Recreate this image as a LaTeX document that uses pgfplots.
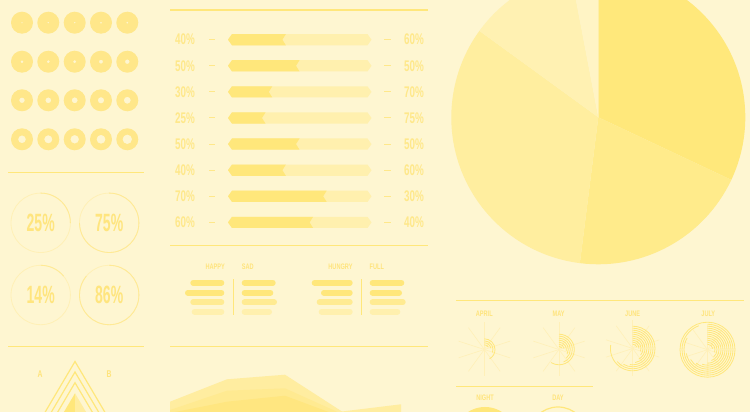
\documentclass[border=0pt]{standalone}
\usepackage{fontspec}
\usepackage{pgfplots}
\pgfplotsset{compat=1.18}
\newfontfamily\condA[FakeStretch=0.64]{Liberation Sans}
\newfontfamily\condP[FakeStretch=0.56]{Liberation Sans}
\newfontfamily\condS[FakeStretch=0.70]{Liberation Sans}
\definecolor{bg}{HTML}{FEF6D1}
\definecolor{dk}{HTML}{FFE77B}
\definecolor{dn}{HTML}{FFE78A}
\definecolor{md}{HTML}{FFEB92}
\definecolor{lt}{HTML}{FFF0AE}
\definecolor{txt}{HTML}{FFE88A}
\definecolor{ptxt}{HTML}{FFE57E}
\definecolor{stxt}{HTML}{FFE47C}
\definecolor{ringl}{HTML}{FFF0B6}
\definecolor{ringd}{HTML}{FFEA94}
\definecolor{spk}{HTML}{FFF0B8}
\definecolor{pA}{HTML}{FFE87B}
\definecolor{pB}{HTML}{FFEB8B}
\definecolor{pC}{HTML}{FFEE9F}
\definecolor{pD}{HTML}{FFF1B2}
\definecolor{pE}{HTML}{FFF4C5}
\definecolor{aA}{HTML}{FFEDA0}
\definecolor{aB}{HTML}{FFEA91}
\definecolor{aC}{HTML}{FFE680}
\tikzset{
  lbl/.style={font=\condA\bfseries\fontsize{15.4}{16}\selectfont, text=txt, inner sep=0pt},
  pct/.style={font=\condP\bfseries\fontsize{25}{26}\selectfont, text=ptxt, inner sep=0pt},
  small/.style={font=\condS\bfseries\fontsize{8}{8}\selectfont, text=stxt, inner sep=0pt},
  ring/.style={draw=dk, line width=0.8pt},
  spoke/.style={draw=spk, line width=0.6pt},
  sep/.style={draw=dk, line width=1.3pt},
}
\newcommand\radial[5]{%
  \foreach \a in {90,54,18,-18,-54,-90,-126,-162,162,126} {%
    \edef\cmd{\noexpand\draw[spoke] (axis cs:#1,-#2) -- ++(\a:#5pt);}\cmd
  }%
  \foreach \e [count=\k from 0] in {#4} {%
    \pgfmathsetmacro\rr{#3+2*\k}%
    \pgfmathsetmacro\ea{90-\e}%
    \edef\cmd{\noexpand\draw[ring] (axis cs:#1,-#2) ++(90:\rr pt) arc[start angle=90,end angle=\ea,radius=\rr pt];}\cmd
  }%
}
\begin{document}
\begin{tikzpicture}
\useasboundingbox (0,0) rectangle (750pt,412pt);
\clip (0,0) rectangle (750pt,412pt);
\fill[bg] (0,0) rectangle (750pt,412pt);
\begin{axis}[at={(0,0)}, anchor=south west, width=750pt, height=412pt, scale only axis,
  xmin=0, xmax=750, ymin=-412, ymax=0, hide axis, clip=false]

% ---------- separators
\addplot[sep] coordinates {(170,-10) (428,-10)};
\addplot[sep] coordinates {(8,-172.3) (143.7,-172.3)};
\addplot[sep] coordinates {(170,-245.7) (428,-245.7)};
\addplot[sep] coordinates {(8,-346.7) (143.7,-346.7)};
\addplot[sep] coordinates {(170,-346.5) (428,-346.5)};
\addplot[sep] coordinates {(456,-300.3) (744,-300.3)};
\addplot[sep] coordinates {(456,-386.7) (592.7,-386.7)};

% ---------- donut grid (outer radius 11, hole radius r)
\foreach \x/\y/\r in {
 22/22.7/0.9, 48.3/22.7/1.0, 74.7/22.7/1.0, 101/22.7/1.1, 127.3/22.7/1.2,
 22/61.7/1.6, 48.3/61.7/1.7, 74.7/61.7/1.8, 101/61.7/2.0, 127.3/61.7/2.3,
 22/100.3/2.8, 48.3/100.3/2.9, 74.7/100.3/3.0, 101/100.3/3.2, 127.3/100.3/3.5,
 22/139.3/3.9, 48.3/139.3/4.1, 74.7/139.3/4.3, 101/139.3/4.5, 127.3/139.3/4.8} {
  \edef\cmd{\noexpand\fill[dn, even odd rule] (axis cs:\x,-\y) circle[radius=11pt] (axis cs:\x,-\y) circle[radius=\r pt];}\cmd
}

% ---------- percent circles
\foreach \cx/\cy/\p in {40.7/222.8/25, 109.2/222.8/75, 40.7/295/14, 109.2/295/86} {
  \pgfmathsetmacro\ea{90-3.6*\p}
  \edef\cmd{
    \noexpand\draw[ringl, line width=0.8pt] (axis cs:\cx,-\cy) circle[radius=29.7pt];
    \noexpand\draw[ringd, line width=0.8pt] (axis cs:\cx,-\cy) ++(90:29.7pt) arc[start angle=90,end angle=\ea,radius=29.7pt];
    \noexpand\node[pct] at (axis cs:\cx,-\cy) {\p\noexpand\%};
  }\cmd
}

% ---------- triangles A / B
\node[small, font=\condS\bfseries\fontsize{9.8}{10}\selectfont] at (axis cs:40,-374.5) {A};
\node[small, font=\condS\bfseries\fontsize{9.8}{10}\selectfont] at (axis cs:109,-374.5) {B};
\addplot[fill=dk, draw=none] coordinates {(59.2,-420) (75,-393.3) (75,-420)} -- cycle;
\addplot[fill=aA, draw=none] coordinates {(75,-393.3) (90.8,-420) (75,-420)} -- cycle;
\addplot[dk, line width=1.2pt] coordinates {(40.5,-420) (75,-361.5) (109.5,-420)};
\addplot[dk, line width=1.2pt] coordinates {(46.7,-420) (75,-372) (103.3,-420)};
\addplot[dk, line width=1.2pt] coordinates {(53,-420) (75,-382.7) (97,-420)};

% ---------- paired percentage bars
\foreach \v [count=\i from 0] in {40,50,30,25,50,40,70,60} {
  \pgfmathsetmacro\yc{-(39.7+26.1*\i)}
  \pgfmathsetmacro\yt{\yc+5.6}
  \pgfmathsetmacro\yb{\yc-5.6}
  \pgfmathsetmacro\xt{231.5+1.36*\v}
  \pgfmathsetmacro\xm{\xt-3.5}
  \pgfmathtruncatemacro\w{100-\v}
  \edef\cmd{
    \noexpand\fill[lt] (axis cs:228,\yc) -- (axis cs:232,\yt) -- (axis cs:367.5,\yt) -- (axis cs:371.5,\yc) -- (axis cs:367.5,\yb) -- (axis cs:232,\yb) -- cycle;
    \noexpand\fill[dk] (axis cs:228,\yc) -- (axis cs:232,\yt) -- (axis cs:\xt,\yt) -- (axis cs:\xm,\yc) -- (axis cs:\xt,\yb) -- (axis cs:232,\yb) -- cycle;
    \noexpand\draw[txt, line width=1pt] (axis cs:209,\yc) -- (axis cs:215,\yc);
    \noexpand\draw[txt, line width=1pt] (axis cs:384,\yc) -- (axis cs:391,\yc);
    \noexpand\node[lbl] at (axis cs:185,\yc) {\v\noexpand\%};
    \noexpand\node[lbl] at (axis cs:414,\yc) {\w\noexpand\%};
  }\cmd
}

% ---------- mood bars
\node[small, anchor=east] at (axis cs:225,-267) {HAPPY};
\node[small, anchor=west] at (axis cs:241.7,-267) {SAD};
\node[small, anchor=east] at (axis cs:352.7,-267) {HUNGRY};
\node[small, anchor=west] at (axis cs:369.5,-267) {FULL};
\addplot[dk, line width=1.2pt] coordinates {(233.7,-279.3) (233.7,-314.7)};
\addplot[dk, line width=1.2pt] coordinates {(361.7,-279.3) (361.7,-314.7)};
\foreach \y/\c/\ha/\sa/\hu/\fu in {282.7/dk/34/34/41/34.6, 292.7/dk/39.3/31.6/31.7/32.3, 302.3/md/34/35.3/36/36, 311.7/lt/32.6/30.3/34/30.6} {
  \pgfmathsetmacro\hl{224.3-\ha+2.85}
  \pgfmathsetmacro\sr{241.7+\sa-2.85}
  \pgfmathsetmacro\hul{352.7-\hu+2.85}
  \pgfmathsetmacro\fr{369.7+\fu-2.85}
  \edef\cmd{
    \noexpand\draw[\c, line width=5.7pt, line cap=round] (axis cs:\hl,-\y) -- (axis cs:221.45,-\y);
    \noexpand\draw[\c, line width=5.7pt, line cap=round] (axis cs:244.55,-\y) -- (axis cs:\sr,-\y);
    \noexpand\draw[\c, line width=5.7pt, line cap=round] (axis cs:\hul,-\y) -- (axis cs:349.85,-\y);
    \noexpand\draw[\c, line width=5.7pt, line cap=round] (axis cs:372.55,-\y) -- (axis cs:\fr,-\y);
  }\cmd
}

% ---------- area chart
\addplot[fill=aA, draw=none] coordinates {(170,-401.7) (227,-379.3) (285,-374.7) (342,-411.5) (401,-404.3) (401,-420) (170,-420)} -- cycle;
\addplot[fill=aB, draw=none] coordinates {(170,-410) (227,-390.7) (285,-388.3) (342,-414) (342,-420) (170,-420)} -- cycle;
\addplot[fill=aC, draw=none] coordinates {(170,-413) (227,-401.7) (285,-395.7) (342,-417) (342,-420) (170,-420)} -- cycle;

% ---------- pie
\gdef\pieangle{90}
\foreach \v/\c in {32/pA,20/pB,33/pC,12/pD,3/pE} {
  \pgfmathsetmacro\enda{\pieangle-3.6*\v}
  \edef\cmd{\noexpand\fill[\c] (axis cs:598.3,-117.3) -- ++(\pieangle:147pt) arc[start angle=\pieangle, end angle=\enda, radius=147pt] -- cycle;}
  \cmd
  \xdef\pieangle{\enda}
}

% ---------- radial charts
\node[small] at (axis cs:484.3,-314) {APRIL};
\node[small] at (axis cs:558.7,-314) {MAY};
\node[small] at (axis cs:632.7,-314) {JUNE};
\node[small] at (axis cs:708.3,-314) {JULY};
\radial{484.3}{349.5}{4.7}{60,80,110,150}{27}
\radial{559}{349.5}{3.3}{60,80,100,120,140,160,211}{27}
\radial{632.7}{348.5}{4.3}{70,90,110,130,150,170,190,210,230,279}{28}
\radial{707.5}{349.7}{5.5}{80,110,140,160,180,200,220,240,260,300,340,360}{25}

% ---------- night / day
\node[small] at (axis cs:485,-397.7) {NIGHT};
\node[small] at (axis cs:558,-397.7) {DAY};
\fill[dk] (axis cs:485,-438) circle[radius=31pt];
\draw[dk, line width=1.2pt] (axis cs:558,-436) circle[radius=29pt];

\end{axis}
\end{tikzpicture}
\end{document}
